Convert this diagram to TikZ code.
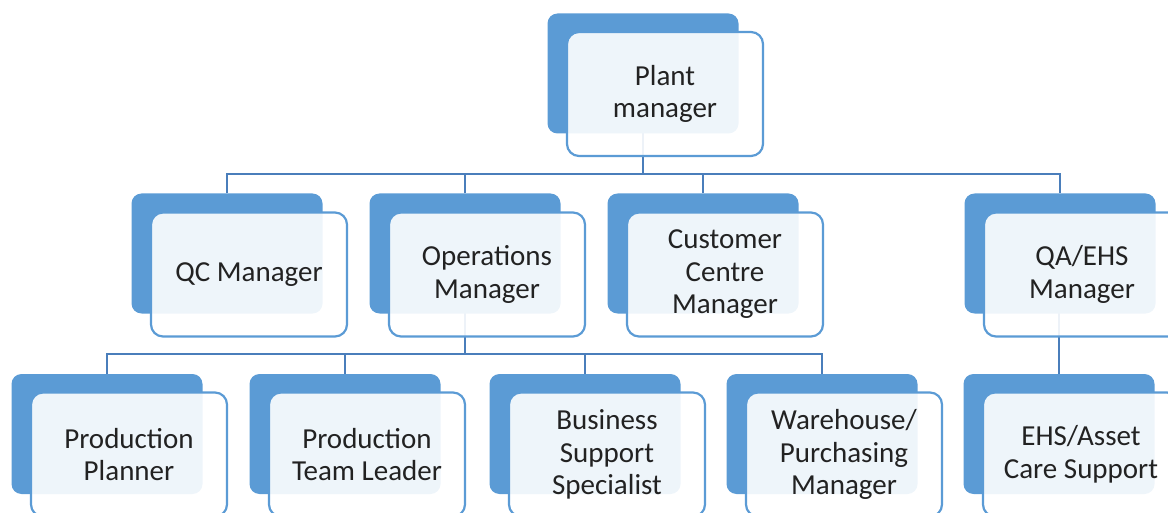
\documentclass[tikz,border=0pt]{standalone}
\usepackage{fontspec}
\setmainfont{Carlito}
\usetikzlibrary{backgrounds}
\definecolor{bblue}{HTML}{5B9BD5}
\definecolor{cblue}{HTML}{4A7EBB}
\definecolor{txt}{HTML}{222222}
\tikzset{
  backbox/.style={fill=bblue, draw=none, rounded corners=10pt, minimum width=191pt, minimum height=120pt, inner sep=0pt, outer sep=0pt},
  frontbox/.style={fill=white, fill opacity=0.9, text opacity=1, draw=bblue, line width=2.2pt, rounded corners=12pt, minimum width=196pt, minimum height=124pt, inner sep=0pt, outer sep=0pt, align=center, text=txt, font=\fontsize{29}{32.5}\selectfont},
  conn/.style={draw=cblue, line width=2pt}
}
\begin{document}
\begin{tikzpicture}[x=1pt,y=-1pt]
\useasboundingbox (0,0) rectangle (1168,513);
\clip (0,0) rectangle (1168,513);
% back boxes
\node[backbox] (pmB) at (643,73.5) {};
\node[backbox] (qcB) at (227,253.5) {};
\node[backbox] (opB) at (465,253.5) {};
\node[backbox] (ccB) at (703,253.5) {};
\node[backbox] (qaB) at (1060,253.5) {};
\node[backbox] (ppB) at (107,434) {};
\node[backbox] (ptB) at (345,434) {};
\node[backbox] (bsB) at (585,434) {};
\node[backbox] (whB) at (822,434) {};
\node[backbox] (ehB) at (1059,434) {};
% front boxes
\node[frontbox] (pm) at (665,94) {Plant\\manager};
\node[frontbox] (qc) at (249,274.5) {QC Manager};
\node[frontbox] (op) at (487,274.5) {Operations\\Manager};
\node[frontbox] (cc) at (725,274.5) {Customer\\Centre\\Manager};
\node[frontbox] (qa) at (1082,274.5) {QA/EHS\\Manager};
\node[frontbox] (pp) at (129,454.5) {Production\\Planner};
\node[frontbox] (pt) at (367,454.5) {Production\\Team Leader};
\node[frontbox] (bs) at (607,454.5) {Business\\Support\\Specialist};
\node[frontbox] (wh) at (844,454.5) {Warehouse/\\Purchasing\\Manager};
\node[frontbox] (eh) at (1081,454.5) {EHS/Asset\\Care Support};
% connectors
\coordinate (h1) at (643,174);
\coordinate (h2) at (465,354);
\begin{scope}[on background layer]
\draw[conn] (pmB.center) -- (h1);
\draw[conn] (qcB.north) -- (qcB.north |- h1) -- (qaB.north |- h1) -- (qaB.north);
\draw[conn] (opB.north) -- (opB.north |- h1);
\draw[conn] (ccB.north) -- (ccB.north |- h1);
\draw[conn] (opB.center) -- (h2);
\draw[conn] (ppB.north) -- (ppB.north |- h2) -- (whB.north |- h2) -- (whB.north);
\draw[conn] (ptB.north) -- (ptB.north |- h2);
\draw[conn] (bsB.north) -- (bsB.north |- h2);
\draw[conn] (qaB.center) -- (ehB.center |- qaB.center) -- (ehB.center);
\end{scope}
\end{tikzpicture}
\end{document}
